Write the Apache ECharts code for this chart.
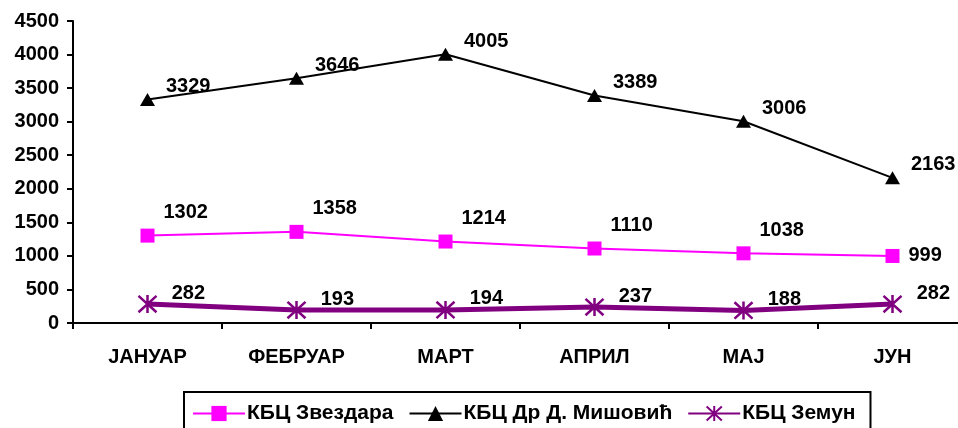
<!DOCTYPE html>
<html>
<head>
<meta charset="utf-8">
<script src="https://cdn.jsdelivr.net/npm/echarts@6/dist/echarts.min.js"></script>
<style>
  html, body { margin: 0; padding: 0; background: #fff; }
  #chart { width: 958px; height: 428px; }
</style>
</head>
<body>
<div id="chart"></div>
<script>
// Monthly totals per hospital centre
const months = ['ЈАНУАР', 'ФЕБРУАР', 'МАРТ', 'АПРИЛ', 'МАЈ', 'ЈУН'];
const seriesNames = ['КБЦ Звездара', 'КБЦ Др Д. Мишовић', 'КБЦ Земун'];
const zvezdara = [1302, 1358, 1214, 1110, 1038, 999];
const misovic = [3329, 3646, 4005, 3389, 3006, 2163];
const zemun = [282, 193, 194, 237, 188, 282];
const yTicks = [0, 500, 1000, 1500, 2000, 2500, 3000, 3500, 4000, 4500];

const FONT = '"Liberation Sans", Arial, sans-serif';
const textBase = { fontFamily: FONT, fontWeight: 'bold', fontSize: 20, color: '#000' };

// Asterisk marker: an X crossed by a vertical stroke
const asterisk = 'path://M0,0L20,20M20,0L0,20M10,-1L10,21';

const chart = echarts.init(document.getElementById('chart'), null, { renderer: 'canvas' });

const lastIdx = zvezdara.length - 1;
const zvezdaraData = zvezdara.map((v, i) => i === lastIdx
  ? { value: v, label: { offset: [0, 0] } }
  : v);

chart.setOption({
  animation: false,
  backgroundColor: '#fff',
  // the plot runs slightly past the right edge of the canvas
  grid: { left: 73, width: 894, top: 21, bottom: 105, containLabel: false, outerBoundsMode: 'none' },
  xAxis: {
    type: 'category',
    data: months,
    boundaryGap: true,
    axisLine: { lineStyle: { color: '#000', width: 2 } },
    axisTick: { show: true, length: 6, lineStyle: { color: '#000', width: 2 } },
    axisLabel: Object.assign({ margin: 24, interval: 0 }, textBase),
    splitLine: { show: false }
  },
  yAxis: {
    type: 'value',
    min: yTicks[0],
    max: yTicks[yTicks.length - 1],
    interval: yTicks[1] - yTicks[0],
    axisLine: { show: true, lineStyle: { color: '#000', width: 2 } },
    axisTick: { show: true, length: 6, lineStyle: { color: '#000', width: 2 } },
    axisLabel: Object.assign({ margin: 14, formatter: v => String(v) }, textBase),
    splitLine: { show: false }
  },
  legend: {
    left: 184,
    top: 392,
    padding: [11, 15, 12, 8],
    itemWidth: 52,
    itemHeight: 19,
    itemGap: 15,
    borderColor: '#000',
    borderWidth: 2,
    borderRadius: 0,
    textStyle: { fontFamily: FONT, fontWeight: 'bold', fontSize: 21, color: '#000', padding: [0, 0, 0, -3] },
    data: seriesNames
  },
  series: [
    {
      name: seriesNames[0],
      type: 'line',
      data: zvezdaraData,
      symbol: 'rect',
      symbolSize: 14,
      lineStyle: { color: '#ff00ff', width: 2 },
      itemStyle: { color: '#ff00ff' },
      label: Object.assign({ show: true, position: 'right', distance: 9, offset: [0, -23] }, textBase),
      z: 3
    },
    {
      name: seriesNames[1],
      type: 'line',
      data: misovic,
      symbol: 'triangle',
      symbolSize: [15, 13],
      lineStyle: { color: '#000', width: 2 },
      itemStyle: { color: '#000' },
      label: Object.assign({ show: true, position: 'right', distance: 11, offset: [0, -13] }, textBase),
      z: 3
    },
    {
      name: seriesNames[2],
      type: 'line',
      data: zemun,
      symbol: asterisk,
      symbolSize: 18,
      lineStyle: { color: '#800080', width: 5 },
      itemStyle: { color: '#800080', borderColor: '#800080', borderWidth: 2.5 },
      label: Object.assign({ show: true, position: 'right', distance: 14, offset: [0, -11] }, textBase),
      z: 3
    }
  ]
});
</script>
</body>
</html>
